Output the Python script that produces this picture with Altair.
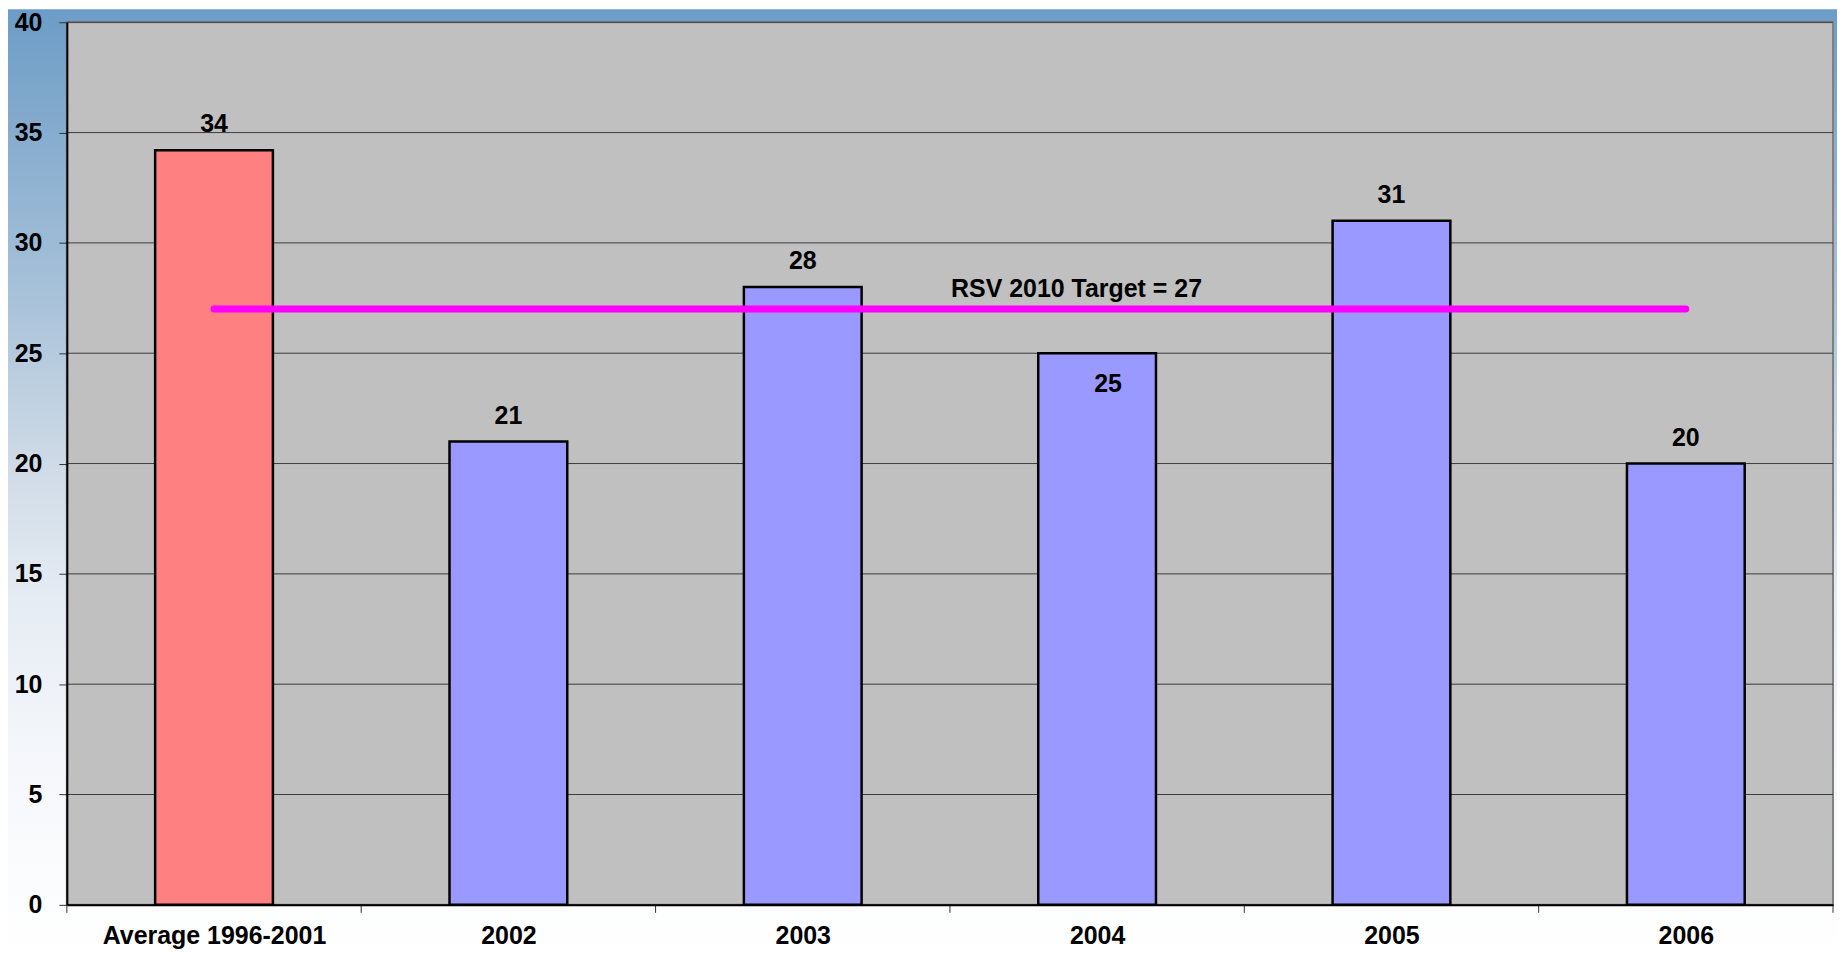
import json
import altair as alt
import pandas as pd

# ---- data ----
categories = ["Average 1996-2001", "2002", "2003", "2004", "2005", "2006"]
values = [34.2, 21, 28, 25, 31, 20]
labels = ["34", "21", "28", "25", "31", "20"]
groups = ["average", "year", "year", "year", "year", "year"]
y_ticks = [0, 5, 10, 15, 20, 25, 30, 35, 40]
target_value = 27
target_text = "RSV 2010 Target = 27"
inside_label_category = "2004"

# ---- layout ----
W, H = 1771, 885
PAD = {"left": 59, "top": 13, "right": 4, "bottom": 46}
FONT = "Liberation Sans"
FS = 25

idx = list(range(len(categories)))
bars_df = pd.DataFrame({"cat": categories, "idx": idx, "value": values,
                        "label": labels, "group": groups})
grid_df = pd.DataFrame({"v": y_ticks})
bounds_df = pd.DataFrame({"b": [i - 0.5 for i in idx] + [idx[-1] + 0.5]})
target_df = pd.DataFrame({"start": [idx[0]], "end": [idx[-1]], "t": [target_value],
                          "text": [target_text], "tx": [2.93]})

xscale = alt.Scale(domain=[-0.5, len(categories) - 0.5], nice=False, zero=False)
yscale = alt.Scale(domain=[0, 40], nice=False)

label_expr = json.dumps(categories) + "[datum.value]"

xaxis = alt.Axis(values=idx, labelExpr=label_expr, ticks=False, tickSize=0, title=None,
                 grid=False, domainColor="black", domainWidth=2,
                 labelFont=FONT, labelFontSize=FS, labelFontWeight="bold",
                 labelColor="black", labelPadding=19, zindex=1, labelOverlap=False,
                 labelLimit=0)
yaxis = alt.Axis(values=y_ticks, grid=False, tickSize=8, tickColor="#333333", title=None,
                 domainColor="black", domainWidth=2, labelPadding=17,
                 labelFont=FONT, labelFontSize=FS, labelFontWeight="bold",
                 labelColor="black", zindex=1)


def X(field):
    return alt.X(field, scale=xscale, axis=xaxis, title=None)


def Y(field):
    return alt.Y(field, scale=yscale, axis=yaxis, title=None)


bg = alt.Chart(pd.DataFrame({"a": [0]})).mark_rect(
    fill=alt.Gradient(
        gradient="linear",
        stops=[
            alt.GradientStop(offset=0, color="#6C9CC6"),
            alt.GradientStop(offset=0.3, color="#A7C1D9"),
            alt.GradientStop(offset=0.48, color="#CEDAE6"),
            alt.GradientStop(offset=0.63, color="#E6ECF4"),
            alt.GradientStop(offset=0.8, color="#F5F7FB"),
            alt.GradientStop(offset=1, color="#FFFFFF"),
        ],
        x1=0, x2=0, y1=0, y2=1,
    )
).encode(
    x=alt.value(-PAD["left"]), x2=alt.value(W + PAD["right"]),
    y=alt.value(-PAD["top"]), y2=alt.value(H + PAD["bottom"]),
)

plot_bg = alt.Chart(pd.DataFrame({"a": [0]})).mark_rect(
    fill="#C0C0C0", stroke="#808080", strokeWidth=2
).encode(x=alt.value(0), x2=alt.value(W), y=alt.value(0), y2=alt.value(H))

grid = alt.Chart(grid_df).mark_rule(color="#3C3C3C", strokeWidth=1).encode(
    y=Y("v:Q"),
    x=alt.value(0), x2=alt.value(W),
)

bars = alt.Chart(bars_df).transform_calculate(
    lo="datum.idx - 0.2", hi="datum.idx + 0.2"
).mark_bar(stroke="black", strokeWidth=2.5).encode(
    x=X("lo:Q"),
    x2="hi:Q",
    y=Y("value:Q"),
    y2=alt.datum(0),
    fill=alt.Color("group:N", legend=None,
                   scale=alt.Scale(domain=["average", "year"], range=["#FF8080", "#9999FF"])),
)

text_style = dict(font=FONT, fontSize=FS, fontWeight="bold", color="black")

bar_labels = alt.Chart(bars_df).transform_filter(
    alt.datum.cat != inside_label_category
).mark_text(baseline="alphabetic", dy=-18, **text_style).encode(
    x=X("idx:Q"),
    y=Y("value:Q"),
    text="label:N",
)

inside_label = alt.Chart(bars_df).transform_filter(
    alt.datum.cat == inside_label_category
).mark_text(baseline="alphabetic", dy=39, dx=11, **text_style).encode(
    x=X("idx:Q"),
    y=Y("value:Q"),
    text="label:N",
)

target_line = alt.Chart(target_df).mark_rule(
    color="#FF00FF", strokeWidth=7, strokeCap="round"
).encode(
    x=X("start:Q"), x2="end:Q",
    y=Y("t:Q"),
)

target_label = alt.Chart(target_df).mark_text(
    baseline="alphabetic", dy=-12, **text_style
).encode(
    x=X("tx:Q"),
    y=Y("t:Q"),
    text="text:N",
)

x_ticks = alt.Chart(bounds_df).mark_rule(color="#333333", strokeWidth=1).encode(
    x=X("b:Q"),
    y=alt.value(H), y2=alt.value(H + 8),
)

chart = alt.layer(
    bg, plot_bg, grid, bars, bar_labels, inside_label, target_line, target_label, x_ticks
).properties(
    width=W, height=H, padding=PAD,
    autosize=alt.AutoSizeParams(type="none"),
).configure_view(stroke=None)

chart.save("out.html", embed_options={"renderer": "svg", "actions": False})
